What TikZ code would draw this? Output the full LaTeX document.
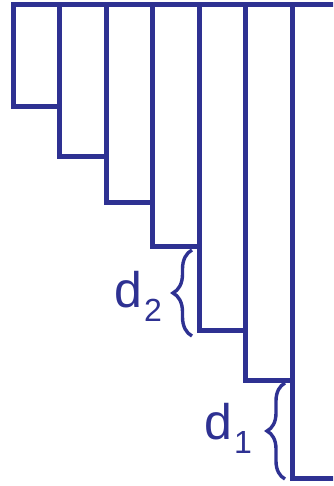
\documentclass[tikz,border=0pt]{standalone}
\usepackage{fontspec}
\setmainfont{Liberation Sans}
\usetikzlibrary{decorations.pathreplacing}
\definecolor{stepblue}{RGB}{46,49,146}

\tikzset{
  wall/.style={draw=stepblue, line width=5pt},
  gapbrace/.style={draw=stepblue, line width=3.4pt,
    decorate, decoration={brace, amplitude=#1}},
  gaplabel/.style={text=stepblue, anchor=base west, inner sep=0pt,
    font=\fontsize{50}{54}\selectfont},
}
\newcommand{\sublow}[1]{\hspace{2pt}\raisebox{-14pt}{\fontsize{32}{34}\selectfont #1}}

\begin{document}
\begin{tikzpicture}[x=1pt, y=-1pt]
	\clip (0,0) rectangle (333,486);
	\fill[white] (0,0) rectangle (333,486);
	% the seven strips, each ending lower than the one before
	\foreach \xl/\xr/\yb in {13/59.5/107, 59.5/106/157, 106/152.5/202, 152.5/199/246,
		199/245.5/330, 245.5/292/380, 292/345/478}
		\draw[wall] (\xl,4.5) rectangle (\xr,\yb);
	% braces for the two gaps
	\coordinate (d2bot) at (192,336);
	\coordinate (d2top) at (192,250);
	\coordinate (d1bot) at (285,479);
	\coordinate (d1top) at (285,383);
	\draw[gapbrace=19pt] (d2bot) -- (d2top);
	\draw[gapbrace=18pt] (d1bot) -- (d1top);
	\node[gaplabel] (lbl2) at (114,307) {d\sublow{2}};
	\node[gaplabel] (lbl1) at (204,439) {d\sublow{1}};
\end{tikzpicture}
\end{document}
